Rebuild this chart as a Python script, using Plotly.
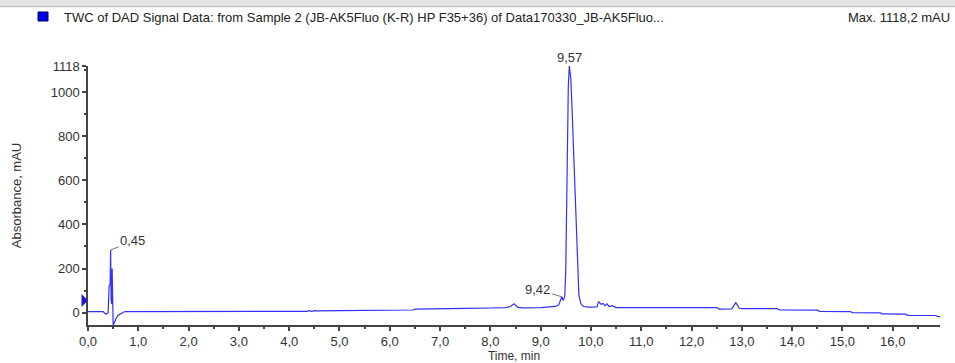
import plotly.graph_objects as go

# ---- data ----
time_min = [0.00, 0.30, 0.33, 0.36, 0.40, 0.42, 0.44, 0.45, 0.46, 0.47, 0.48, 0.49, 0.50,
            0.52, 0.55, 0.60, 0.65, 0.70, 0.75, 1.0, 2.0, 3.0, 4.0, 4.35, 4.40, 4.45, 4.50,
            4.55, 5.0, 5.5, 6.0, 6.45, 6.5, 6.75, 7.0, 7.5, 8.0, 8.3, 8.4, 8.47, 8.55, 8.65,
            9.0, 9.2, 9.3, 9.36, 9.40, 9.42, 9.45, 9.48, 9.50, 9.52, 9.55, 9.57, 9.60, 9.62,
            9.65, 9.68, 9.70, 9.73, 9.76, 9.80, 9.85, 9.95, 10.05, 10.12, 10.15, 10.20, 10.24,
            10.28, 10.32, 10.36, 10.42, 10.5, 11.0, 12.0, 12.5, 12.55, 12.8, 12.88, 12.95,
            13.0, 13.7, 13.75, 14.5, 14.55, 15.15, 15.2, 15.75, 15.8, 16.25, 16.3, 16.85,
            16.9, 16.94]
absorbance = [5, 5, -2, -7, 0, 120, 130, 284, 60, 40, 200, 40, -55,
              -48, -30, -12, -3, 2, 5, 5, 5, 5, 5, 6, 9, 6, 9,
              8, 9, 10, 11, 12, 16, 16, 17, 19, 21, 23, 28, 40, 24, 22,
              23, 26, 28, 35, 55, 72, 55, 75, 200, 550, 1030, 1118, 1060, 950,
              750, 560, 430, 200, 80, 40, 28, 25, 24, 26, 50, 38, 42,
              32, 40, 28, 32, 23, 23, 23, 23, 16, 17, 45, 20,
              18, 18, 12, 11, 6, 5, 0, -1, -6, -7, -12, -13,
              -18, -18]

peak_times = [0.45, 9.57, 9.42]
peak_values = [284, 1118, 72]
peak_labels = ["0,45", "9,57", "9,42"]

x_tickvals = list(range(0, 17))
x_ticktext = [f"{v},0" for v in x_tickvals]
y_tickvals = [0, 200, 400, 600, 800, 1000, 1118]
y_ticktext = [str(v) for v in y_tickvals]

header_text = "TWC of DAD Signal Data: from Sample 2 (JB-AK5Fluo (K-R) HP F35+36) of Data170330_JB-AK5Fluo..."
max_text = "Max. 1118,2 mAU"

# ---- layout geometry ----
W, H = 955, 363
L, R, T, B = 88, 15, 66, 38
pw, ph = W - L - R, H - T - B


def px_x(px):
    return (px - L) / pw


def px_y(py):
    return (H - B - py) / ph


FONT = "Liberation Sans, Arial, sans-serif"
TXT = "#333333"
AX = "#444444"
LINE = "#3030ff"

fig = go.Figure()
fig.add_trace(go.Scatter(x=time_min, y=absorbance, mode="lines",
                         line=dict(color=LINE, width=1.2), showlegend=False,
                         hoverinfo="x+y"))

annotations = []
annotations.append(dict(x=peak_times[0], y=peak_values[0], text=peak_labels[0],
                        showarrow=True, arrowhead=0, arrowwidth=0.8, arrowcolor="#555",
                        ax=22, ay=-9, font=dict(family=FONT, size=13, color=TXT)))
annotations.append(dict(x=peak_times[1], y=peak_values[1], text=peak_labels[1],
                        showarrow=False, yshift=9, font=dict(family=FONT, size=13, color=TXT)))
annotations.append(dict(x=peak_times[2], y=peak_values[2], text=peak_labels[2],
                        showarrow=True, arrowhead=0, arrowwidth=0.8, arrowcolor="#555",
                        ax=-24, ay=-7, font=dict(family=FONT, size=13, color=TXT)))
annotations.append(dict(xref="paper", yref="paper", x=px_x(62), y=px_y(18),
                        xanchor="left", yanchor="middle", showarrow=False,
                        text=header_text, font=dict(family=FONT, size=13, color="#222")))
annotations.append(dict(xref="paper", yref="paper", x=px_x(952), y=px_y(18),
                        xanchor="right", yanchor="middle", showarrow=False,
                        text=max_text, font=dict(family=FONT, size=13, color="#222")))

tri = "M {:.5f},{:.5f} L {:.5f},{:.5f} L {:.5f},{:.5f} Z".format(
    px_x(81.5), px_y(294), px_x(88), px_y(300.5), px_x(81.5), px_y(307))

shapes = [
    dict(type="rect", xref="paper", yref="paper", x0=px_x(0), x1=px_x(W),
         y0=px_y(7), y1=px_y(0), fillcolor="#e4e4e4", line=dict(width=0), layer="above"),
    dict(type="line", xref="paper", yref="paper", x0=px_x(0), x1=px_x(W),
         y0=px_y(6.5), y1=px_y(6.5), line=dict(color="#c4c4c4", width=1.5)),
    dict(type="rect", xref="paper", yref="paper", x0=px_x(38), x1=px_x(48),
         y0=px_y(21), y1=px_y(12), fillcolor="#0000ee", line=dict(color="#000060", width=1)),
    dict(type="path", xref="paper", yref="paper", path=tri,
         fillcolor="#1a1acc", line=dict(width=0)),
]

fig.update_layout(
    width=W, height=H,
    margin=dict(l=L, r=R, t=T, b=B, pad=0),
    paper_bgcolor="white", plot_bgcolor="white",
    font=dict(family=FONT, size=12, color=TXT),
    annotations=annotations, shapes=shapes,
    xaxis=dict(range=[0, 16.94], tickvals=x_tickvals, ticktext=x_ticktext,
               showgrid=False, zeroline=False, showline=True, linecolor=AX, linewidth=1.5,
               ticks="outside", ticklen=4, tickcolor=AX, tickwidth=1.5,
               minor=dict(dtick=0.5, tick0=0, ticks="outside", ticklen=2, tickcolor=AX,
                          showgrid=False),
               tickfont=dict(family=FONT, size=13, color=TXT),
               title=dict(text="Time, min", standoff=3,
                          font=dict(family=FONT, size=12, color=TXT)),
               automargin=False),
    yaxis=dict(range=[-56, 1118], tickvals=y_tickvals, ticktext=y_ticktext,
               showgrid=False, zeroline=False, showline=True, linecolor=AX, linewidth=1.5,
               ticks="outside", ticklen=4, tickcolor=AX, tickwidth=1.5,
               minor=dict(dtick=100, tick0=0, ticks="outside", ticklen=2, tickcolor=AX,
                          showgrid=False),
               tickfont=dict(family=FONT, size=13, color=TXT),
               title=dict(text="Absorbance, mAU", standoff=26,
                          font=dict(family=FONT, size=13, color=TXT)),
               automargin=False),
)

fig.write_html("out.html")
